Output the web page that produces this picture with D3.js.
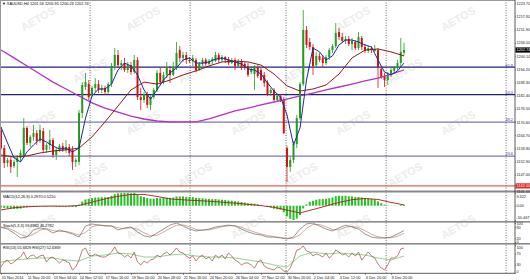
<!DOCTYPE html>
<html><head><meta charset="utf-8">
<script src="https://cdn.jsdelivr.net/npm/d3@7/dist/d3.min.js"></script>
<style>
html,body{margin:0;padding:0;background:#fff;overflow:hidden}
svg{display:block}
text{font-family:"Liberation Sans",Arial,sans-serif}
</style></head><body>
<svg id="chart" width="530" height="280"></svg>
<script>
// ---------------- DATA ----------------
const symbolTitle = "XAUUSD,H4";
const lastOHLC = ["1201.56","1205.95","1200.23","1202.74"];
const open = [1167.0,1158.9,1152.2,1153.6,1150.9,1152.7,1154.5,1155.4,1167.9,1161.2,
1163.9,1165.6,1162.1,1166.5,1158.1,1160.3,1162.5,1155.8,1158.1,1159.8,
1158.1,1159.4,1158.1,1152.7,1152.7,1174.6,1186.2,1187.5,1182.6,1185.8,
1187.5,1184.9,1185.8,1184.0,1187.5,1195.6,1200.5,1196.0,1196.9,1193.8,
1196.0,1192.9,1198.3,1181.7,1180.4,1183.1,1178.2,1181.7,1184.9,1192.5,
1188.4,1191.6,1193.8,1191.6,1195.1,1202.7,1199.2,1200.5,1198.3,1197.8,
1198.3,1193.8,1196.5,1198.3,1196.5,1197.8,1197.8,1200.5,1198.3,1199.6,
1198.7,1196.9,1198.3,1195.6,1197.8,1196.5,1195.6,1192.9,1192.0,1195.1,
1193.8,1191.6,1188.4,1183.5,1184.9,1180.4,1182.2,1180.4,1158.9,1150.5,
1153.6,1160.7,1172.3,1187.5,1211.7,1206.3,1204.1,1196.0,1200.1,1199.2,
1196.9,1199.6,1202.7,1204.5,1210.8,1208.6,1206.8,1207.7,1205.4,1206.3,
1203.6,1208.1,1204.1,1202.3,1203.6,1202.3,1202.7,1194.3,1191.1,1189.3,
1191.6,1193.4,1194.7,1196.9,1201.56];
const high = [1168.3,1160.3,1154.5,1154.9,1153.6,1155.8,1158.1,1172.3,1168.8,1164.7,
1169.2,1167.0,1169.2,1167.9,1161.2,1167.0,1163.4,1158.9,1160.7,1161.2,
1162.5,1160.7,1159.8,1154.5,1175.9,1188.4,1192.5,1189.3,1186.7,1190.2,
1189.3,1187.1,1186.7,1188.4,1196.9,1203.6,1202.7,1198.3,1199.2,1197.4,
1197.4,1200.5,1199.6,1185.8,1184.0,1184.0,1182.6,1185.8,1193.8,1194.7,
1192.9,1197.4,1195.6,1197.4,1206.3,1204.5,1201.9,1201.9,1199.6,1200.5,
1199.2,1197.4,1199.2,1199.2,1198.7,1199.6,1201.9,1201.4,1200.5,1200.1,
1199.6,1199.2,1199.2,1198.7,1198.7,1197.4,1196.9,1195.6,1196.0,1196.0,
1194.7,1192.9,1189.3,1185.8,1185.8,1183.1,1183.1,1181.7,1159.8,1154.9,
1162.1,1173.7,1188.4,1220.6,1213.5,1208.1,1205.4,1201.9,1201.4,1200.5,
1200.5,1203.6,1205.4,1214.8,1212.6,1210.4,1209.0,1209.0,1208.1,1207.2,
1210.8,1209.0,1205.4,1204.5,1204.5,1205.0,1203.6,1195.1,1192.5,1192.9,
1195.1,1195.6,1198.3,1208.1,1205.95];
const low = [1158.1,1150.0,1150.5,1147.8,1150.0,1146.0,1152.7,1154.5,1160.3,1159.4,
1162.1,1160.3,1161.2,1157.2,1156.7,1158.1,1154.5,1153.6,1157.2,1157.2,
1156.7,1155.4,1149.1,1150.5,1151.3,1172.3,1184.9,1180.4,1181.7,1184.0,
1183.5,1183.5,1182.6,1183.1,1186.2,1193.8,1194.7,1193.8,1192.9,1192.5,
1191.6,1192.0,1180.4,1175.9,1179.1,1176.8,1175.9,1180.8,1184.0,1187.1,
1187.5,1190.2,1188.0,1191.1,1193.8,1197.4,1197.4,1196.5,1196.9,1195.6,
1192.9,1193.4,1195.6,1195.6,1196.0,1196.5,1197.4,1196.9,1197.4,1196.9,
1196.0,1196.5,1193.8,1195.1,1193.8,1193.8,1190.7,1192.0,1184.9,1190.2,
1188.9,1186.2,1182.2,1182.2,1179.9,1179.5,1179.5,1165.2,1143.7,1148.2,
1152.2,1158.9,1171.5,1186.7,1203.6,1202.7,1191.6,1194.7,1197.4,1195.1,
1196.0,1198.3,1201.4,1203.6,1207.2,1205.9,1205.4,1204.5,1202.7,1202.7,
1202.7,1202.7,1201.4,1201.4,1201.4,1201.9,1185.8,1189.8,1186.2,1187.1,
1190.7,1192.0,1193.8,1194.7,1200.23];
const close = [1158.9,1152.2,1153.6,1150.5,1152.7,1154.5,1156.7,1167.9,1161.2,1163.9,
1165.6,1162.1,1167.0,1158.1,1160.3,1162.5,1155.8,1158.1,1159.8,1158.1,
1159.4,1156.7,1152.7,1153.6,1174.6,1187.1,1188.4,1181.7,1185.8,1187.5,
1184.9,1185.8,1184.0,1187.5,1195.6,1200.5,1196.0,1196.9,1193.8,1196.0,
1192.9,1198.3,1181.7,1180.4,1183.1,1178.2,1181.7,1184.9,1192.5,1188.4,
1191.6,1195.1,1191.6,1195.1,1201.4,1199.2,1200.5,1198.3,1197.8,1199.2,
1193.8,1196.5,1198.3,1196.5,1197.8,1198.7,1200.5,1198.3,1199.6,1198.3,
1196.9,1198.3,1195.6,1197.8,1194.7,1194.7,1191.6,1194.3,1195.6,1191.1,
1189.3,1188.0,1182.6,1184.9,1180.4,1182.2,1180.4,1165.6,1150.5,1153.6,
1160.7,1172.3,1187.5,1211.7,1205.0,1204.1,1195.6,1200.1,1198.3,1196.9,
1199.6,1202.7,1204.5,1210.4,1208.6,1206.8,1207.7,1205.4,1206.8,1203.6,
1208.6,1204.1,1202.3,1203.6,1202.7,1203.2,1194.7,1190.7,1189.3,1191.6,
1193.8,1194.7,1196.9,1201.9,1202.74];

// moving averages (fast: every 2 bars, mid & slow: every 4 bars)
const maFastStep = 2;
const maFast = [1168.3,1161.2,1154.5,1152.7,1157.2,1160.3,1163.0,1161.6,1159.8,1158.5,
1158.9,1157.2,1158.9,1172.3,1182.2,1185.3,1185.3,1187.5,1193.8,1196.9,
1195.6,1191.6,1184.9,1180.8,1184.9,1189.3,1192.5,1194.7,1198.3,1199.2,
1196.9,1196.9,1197.4,1198.7,1199.2,1198.3,1197.4,1196.5,1194.3,1193.8,
1192.0,1188.0,1184.4,1181.7,1173.7,1160.3,1167.9,1189.3,1203.6,1201.9,
1198.3,1200.1,1205.0,1207.2,1207.2,1206.3,1205.0,1204.1,1198.3,1192.9,
1191.6,1193.4,1196.9];
const maMidStep = 4;
const maMid = [1155.8,1154.9,1155.4,1156.7,1157.6,1158.1,1158.9,1163.9,1170.6,1177.7,
1184.9,1188.4,1187.5,1189.3,1191.6,1193.4,1195.6,1197.4,1197.8,1197.4,
1196.0,1192.0,1186.7,1184.4,1185.3,1187.1,1192.0,1199.2,1202.7,1203.2,
1201.9,1200.1];
const maSlowStep = 4;
const maSlow = [1202.75,1199.2,1195.6,1192.0,1188.4,1185.3,1182.2,1179.1,1176.8,1175.0,
1173.2,1171.9,1171.0,1170.6,1170.6,1170.6,1171.9,1173.7,1175.5,1176.8,
1178.2,1179.5,1180.8,1182.2,1183.5,1184.9,1186.2,1187.5,1188.9,1190.2,
1192.0,1193.8];

// Fibonacci retracement
const fibLevels = ["23.6","38.2","50.0","61.8"];
const fibLow = 1130.8, fibHigh = 1234.8;
const hLinePrice = 1142.0;
const hLineLabel = "1142.00";

// MACD(12,26,9)
const macdMain = [-1.2,-1.6,-1.9,-2.2,-2.3,-2.3,-2.1,-1.3,-1.1,-0.8,
-0.5,-0.4,-0.1,-0.3,-0.3,-0.2,-0.4,-0.5,-0.5,-0.5,
-0.5,-0.6,-0.9,-1.0,0.8,3.0,4.6,5.1,5.6,6.0,
6.1,6.2,6.1,6.4,7.3,8.5,9.0,9.2,9.3,9.3,
9.1,9.3,8.1,7.0,6.4,5.6,5.2,5.1,5.6,5.5,
5.6,5.9,5.8,6.0,6.8,6.8,6.8,6.6,6.4,6.3,
5.7,5.5,5.4,5.1,4.9,4.8,4.9,4.6,4.4,4.2,
3.8,3.7,3.3,3.1,2.7,2.3,1.8,1.6,1.5,1.1,
0.6,0.0,-0.9,-1.4,-2.2,-2.6,-2.9,-4.8,-7.8,-9.6,
-10.467,-9.5,-6.9,-2.0,0.9,2.9,3.6,4.4,4.8,5.0,
5.1,5.5,6.0,7.0,7.3,7.2,7.2,6.9,6.8,6.4,
6.5,6.1,5.6,5.3,4.9,4.6,3.1,1.8,0.8,0.2,
-0.1,-0.2,-0.1,0.5,0.8];
const macdSignalStep = 4;
const macdSignal = [-3.1,-1.5,-0.8,-0.4,-0.3,-0.4,0.2,2.6,5.0,6.9,8.2,8.3,6.8,5.0,4.3,3.8,
3.3,2.6,1.9,1.0,0.1,-1.2,-3.2,-5.3,-2.8,-0.2,2.4,4.4,5.3,4.6,2.4,0.6];
const macdTicks = [9.322, 0, -10.467];
const macdTickText = ["9.322","0.00","-10.467"];
const macdLabel = "MACD(12,26,9) 0.2970 0.5210";

// Stochastic(5,3,3)
const stochStep = 2;
const stochMain = [79,68,47,21,26,63,74,68,47,63,53,42,26,84,95,89,84,84,63,74,
79,53,32,26,47,68,89,100,84,68,58,63,68,79,84,89,84,68,53,42,
37,26,26,21,16,26,68,95,100,84,68,58,74,89,79,68,42,26,21,21,26,42,60];
const stochSignal = [75,74,60,40,28,40,62,70,60,55,56,48,36,50,80,90,87,85,75,70,
75,68,48,34,35,52,72,88,90,80,66,62,64,72,80,85,86,78,64,52,
42,34,28,24,20,20,38,72,92,92,80,66,64,78,82,76,60,40,28,22,22,30,46];
const stochTicks = [100,80,20,0];
const stochLabel = "Stoch(5,3,3) 59.8982 46.2782";

// RSI
const rsiFast = [21.1,39.3,46.5,32.0,39.3,50.2,57.4,75.6,50.2,61.1,
64.7,53.8,61.1,64.7,39.3,53.8,57.4,46.5,35.6,46.5,
42.9,35.6,10.2,21.1,46.5,82.9,90.2,64.7,61.1,68.4,
61.1,57.4,57.4,64.7,75.6,93.8,72.0,68.4,57.4,64.7,
53.8,75.6,39.3,28.4,42.9,35.6,46.5,50.2,64.7,57.4,
68.4,75.6,64.7,75.6,90.2,75.6,72.0,61.1,53.8,61.1,
42.9,57.4,64.7,50.2,57.4,42.9,64.7,53.8,64.7,50.2,
72.0,61.1,46.5,39.3,28.4,35.6,35.6,28.4,17.5,39.3,
46.5,24.7,17.5,13.8,10.2,21.1,17.5,6.5,2.9,17.5,
46.5,82.9,86.5,97.4,79.3,75.6,61.1,68.4,64.7,57.4,
72.0,53.8,64.7,82.9,75.6,64.7,68.4,57.4,72.0,61.1,
75.6,46.5,61.1,75.6,61.1,53.8,32.0,17.5,10.2,28.4,
53.8,53.8,61.1,86.5,90.2];
const rsiSlowStep = 4;
const rsiSlow = [39.3,46.5,50.2,53.8,53.8,46.5,42.9,61.1,64.7,72.0,68.4,57.4,57.4,64.7,68.4,61.1,
57.4,57.4,53.8,46.5,39.3,28.4,21.1,61.1,75.6,68.4,72.0,68.4,64.7,53.8,46.5,61.1];
const rsiTicks = [100,70,30,0];
const rsiLabel = "RSI(13) 55.6829 RSI(27) 52.6369";

// price axis labels
const priceTicks = [1141.10,1147.00,1152.90,1158.80,1164.70,1170.60,1176.50,1182.40,1188.30,1194.20,1200.10,1206.00,1211.90,1217.80,1223.70];

// time axis labels (bar index, text)
const timeTickBars = [0,8,16,24,32,40,48,56,64,72,80,88,96,104,112,120];
const timeTickText = ["10 Nov 2014","11 Nov 20:00","13 Nov 04:00","14 Nov 12:00","17 Nov 16:00","19 Nov 00:00","20 Nov 08:00","21 Nov 16:00","24 Nov 20:00","26 Nov 04:00","27 Nov 12:00","30 Nov 20:00","2 Dec 04:00","3 Dec 12:00","4 Dec 20:00","8 Dec 20:00"];

// weekly period separators (bar positions)
const separatorBars = [27.4,58.2,87.7,118.5,155.4];

// ---------------- DRAW ----------------
const W = 530, H = 280, axisX = 515;
const FS = 3.85;
const svg = d3.select("#chart");
svg.append("rect").attr("width", W).attr("height", H).attr("fill", "#fff");

const x = d3.scaleLinear().domain([0, 158]).range([1, 514.5]);
const yMain = d3.scaleLinear().domain([1140.16, 1225.09]).range([190, 0]);
const yMacd = d3.scaleLinear().domain([-10.467, 9.322]).range([220, 193]);
const yStoch = d3.scaleLinear().domain([0, 100]).range([242, 223]);
const yRsi = d3.scaleLinear().domain([0, 100]).range([272.8, 245.3]);

const defs = svg.append("defs");
function clip(id, y0, y1) {
  defs.append("clipPath").attr("id", id).append("rect")
    .attr("x", 0).attr("y", y0).attr("width", axisX).attr("height", y1 - y0);
}
clip("cMain", 1, 190.5); clip("cMacd", 192.5, 221); clip("cStoch", 222.5, 243); clip("cRsi", 244.5, 273);

// watermark
const wm = svg.append("g").attr("fill", "#ececec").attr("font-size", 11).attr("font-weight", "bold");
for (let r = 0; r < 5; r++) for (let c = 0; c < 5; c++) {
  const cx = 40 + c * 105 + (r % 2) * 52, cy = 22 + r * 52;
  if (cx > 495) continue;
  wm.append("text").attr("transform", `translate(${cx},${cy}) rotate(-30)`)
    .attr("text-anchor", "middle").text("AETOS");
}

// fib lines
const fibColor = {"23.6": "#7a7ab0", "38.2": "#7a7ab0", "50.0": "#22227a", "61.8": "#22227a"};
const fibG = svg.append("g");
fibLevels.forEach(l => {
  const p = fibLow + (fibHigh - fibLow) * (+l) / 100;
  const yy = yMain(p);
  fibG.append("line").attr("x1", 0).attr("x2", axisX).attr("y1", yy).attr("y2", yy)
    .attr("stroke", fibColor[l]).attr("stroke-width", 1.2);
  fibG.append("text").attr("x", 513).attr("y", yy - 0.6).attr("text-anchor", "end")
    .attr("font-size", FS).attr("fill", "#3a3aa0").text(l);
});

// separators
svg.append("g").selectAll("line").data(separatorBars).join("line")
  .attr("x1", d => x(d)).attr("x2", d => x(d)).attr("y1", 0).attr("y2", 273)
  .attr("stroke", "#333").attr("stroke-width", 0.7).attr("stroke-dasharray", "1,1.5");

// horizontal red line
svg.append("line").attr("x1", 0).attr("x2", W).attr("y1", yMain(hLinePrice)).attr("y2", yMain(hLinePrice))
  .attr("stroke", "#e06060").attr("stroke-width", 1.2);

// candles
const GREEN = "#1f9e1f", RED = "#d41414";
const bars = d3.range(open.length).map(i => ({i, o: open[i], h: high[i], l: low[i], c: close[i]}));
const cg = svg.append("g").attr("clip-path", "url(#cMain)");
cg.selectAll("line.w").data(bars).join("line").attr("class", "w")
  .attr("x1", d => x(d.i)).attr("x2", d => x(d.i))
  .attr("y1", d => yMain(d.h)).attr("y2", d => yMain(d.l))
  .attr("stroke", d => d.c >= d.o ? GREEN : RED).attr("stroke-width", 0.8);
cg.selectAll("rect.b").data(bars).join("rect").attr("class", "b")
  .attr("x", d => x(d.i) - 1).attr("width", 2)
  .attr("y", d => yMain(Math.max(d.o, d.c)))
  .attr("height", d => Math.max(0.7, Math.abs(yMain(d.o) - yMain(d.c))))
  .attr("fill", d => d.c >= d.o ? GREEN : RED);

// moving averages
function series(arr, step) { return arr.map((v, k) => ({i: k * step, v})); }
function drawLine(g, data, ys, color, w, dash) {
  const p = g.append("path").datum(data)
    .attr("d", d3.line().x(d => x(d.i)).y(d => ys(d.v)))
    .attr("fill", "none").attr("stroke", color).attr("stroke-width", w);
  if (dash) p.attr("stroke-dasharray", dash);
  return p;
}
drawLine(cg, series(maSlow, maSlowStep), yMain, "#b233c4", 1.3);
drawLine(cg, series(maMid, maMidStep), yMain, "#8a1c1c", 1);
drawLine(cg, series(maFast, maFastStep), yMain, "#1d2a9c", 1);

// panel separators
[[190.5, 192.5], [221, 222.6], [243, 244.6]].forEach(([a, b]) => {
  svg.append("rect").attr("x", 0).attr("y", a).attr("width", W).attr("height", b - a).attr("fill", "#8a8a8a");
});

// MACD
const mg = svg.append("g").attr("clip-path", "url(#cMacd)");
mg.selectAll("rect").data(macdMain.map((v, i) => ({i, v}))).join("rect")
  .attr("x", d => x(d.i) - 1).attr("width", 2)
  .attr("y", d => Math.min(yMacd(d.v), yMacd(0)))
  .attr("height", d => Math.abs(yMacd(d.v) - yMacd(0)))
  .attr("fill", "#26c226");
drawLine(mg, series(macdSignal, macdSignalStep), yMacd, "#b01818", 0.9);

// Stoch
const sg = svg.append("g").attr("clip-path", "url(#cStoch)");
drawLine(sg, series(stochSignal, stochStep), yStoch, "#c08a70", 0.7);
drawLine(sg, series(stochMain, stochStep), yStoch, "#6a6a6a", 0.7);

// RSI
const rg = svg.append("g").attr("clip-path", "url(#cRsi)");
drawLine(rg, series(rsiSlow, rsiSlowStep), yRsi, "#7ec87e", 0.8);
drawLine(rg, series(rsiFast, 1), yRsi, "#9a4a3a", 0.7);

// frame & right axis
svg.append("line").attr("x1", 0).attr("x2", axisX).attr("y1", 0.5).attr("y2", 0.5).attr("stroke", "#999");
svg.append("line").attr("x1", 0.5).attr("x2", 0.5).attr("y1", 0).attr("y2", 273).attr("stroke", "#999");
svg.append("line").attr("x1", axisX).attr("x2", axisX).attr("y1", 0).attr("y2", 273.5).attr("stroke", "#333").attr("stroke-width", 0.8);
svg.append("line").attr("x1", 0).attr("x2", axisX).attr("y1", 273.3).attr("y2", 273.3).attr("stroke", "#333").attr("stroke-width", 0.8);

function styleAxis(g) {
  g.selectAll("path.domain").remove();
  g.selectAll("line").attr("stroke", "#333").attr("stroke-width", 0.6);
  g.selectAll("text").attr("font-size", FS).attr("fill", "#222").attr("font-family", "Liberation Sans, Arial, sans-serif");
}
// end labels of an indicator window: shift so they stay inside it
function nudgeEnds(g, topDy, botDy) {
  const t = g.selectAll("g.tick").nodes();
  const ys = t.map(n => +d3.select(n).attr("transform").match(/,([\d.\-]+)/)[1]);
  d3.select(t[d3.minIndex(ys)]).select("text").attr("dy", topDy);
  d3.select(t[d3.maxIndex(ys)]).select("text").attr("dy", botDy);
}
const ax = svg.append("g").attr("transform", `translate(${axisX},0)`)
  .call(d3.axisRight(yMain).tickValues(priceTicks).tickFormat(d3.format(".2f")).tickSize(1).tickPadding(0.4));
styleAxis(ax);
const axM = svg.append("g").attr("transform", `translate(${axisX},0)`)
  .call(d3.axisRight(yMacd).tickValues(macdTicks).tickFormat((d, k) => macdTickText[k]).tickSize(1).tickPadding(0.4));
styleAxis(axM); nudgeEnds(axM, "1.05em", "-0.3em");
const axS = svg.append("g").attr("transform", `translate(${axisX},0)`)
  .call(d3.axisRight(yStoch).tickValues(stochTicks).tickFormat(d3.format("d")).tickSize(1).tickPadding(0.4));
styleAxis(axS); nudgeEnds(axS, "0.5em", "0.2em");
const axR = svg.append("g").attr("transform", `translate(${axisX},0)`)
  .call(d3.axisRight(yRsi).tickValues(rsiTicks).tickFormat(d3.format("d")).tickSize(1).tickPadding(0.4));
styleAxis(axR); nudgeEnds(axR, "0.9em", "-0.2em");

// price boxes
function priceBox(p, txt, bg) {
  const yy = yMain(p);
  svg.append("rect").attr("x", axisX + 0.5).attr("y", yy - 2.6).attr("width", W - axisX).attr("height", 5.2).attr("fill", bg);
  svg.append("text").attr("x", axisX + 1.6).attr("y", yy + 1.4).attr("font-size", FS).attr("fill", "#fff").text(txt);
}
// bottom price label sits just under the red box in the reference
ax.selectAll("g.tick").filter(d => d === priceTicks[0]).select("text").attr("dy", "1.25em");
priceBox(+lastOHLC[3], lastOHLC[3], "#000");
priceBox(hLinePrice, hLineLabel, "#e02828");

// time axis
const axT = svg.append("g").attr("transform", "translate(0,273.3)")
  .call(d3.axisBottom(x).tickValues(timeTickBars).tickFormat((d, k) => timeTickText[k]).tickSize(1.5).tickPadding(1));
styleAxis(axT);
axT.selectAll("text").attr("text-anchor", "start").attr("dx", "0.2");

// titles
svg.append("text").attr("x", 2).attr("y", 5).attr("font-size", FS).attr("fill", "#000")
  .text("\u25BC " + symbolTitle + "  " + lastOHLC.join(" "));
svg.append("text").attr("x", 3).attr("y", 197.5).attr("font-size", FS).attr("fill", "#000").text(macdLabel);
svg.append("text").attr("x", 3).attr("y", 227).attr("font-size", FS).attr("fill", "#000").text(stochLabel);
svg.append("text").attr("x", 3).attr("y", 249).attr("font-size", FS).attr("fill", "#000").text(rsiLabel);
</script>
</body></html>
